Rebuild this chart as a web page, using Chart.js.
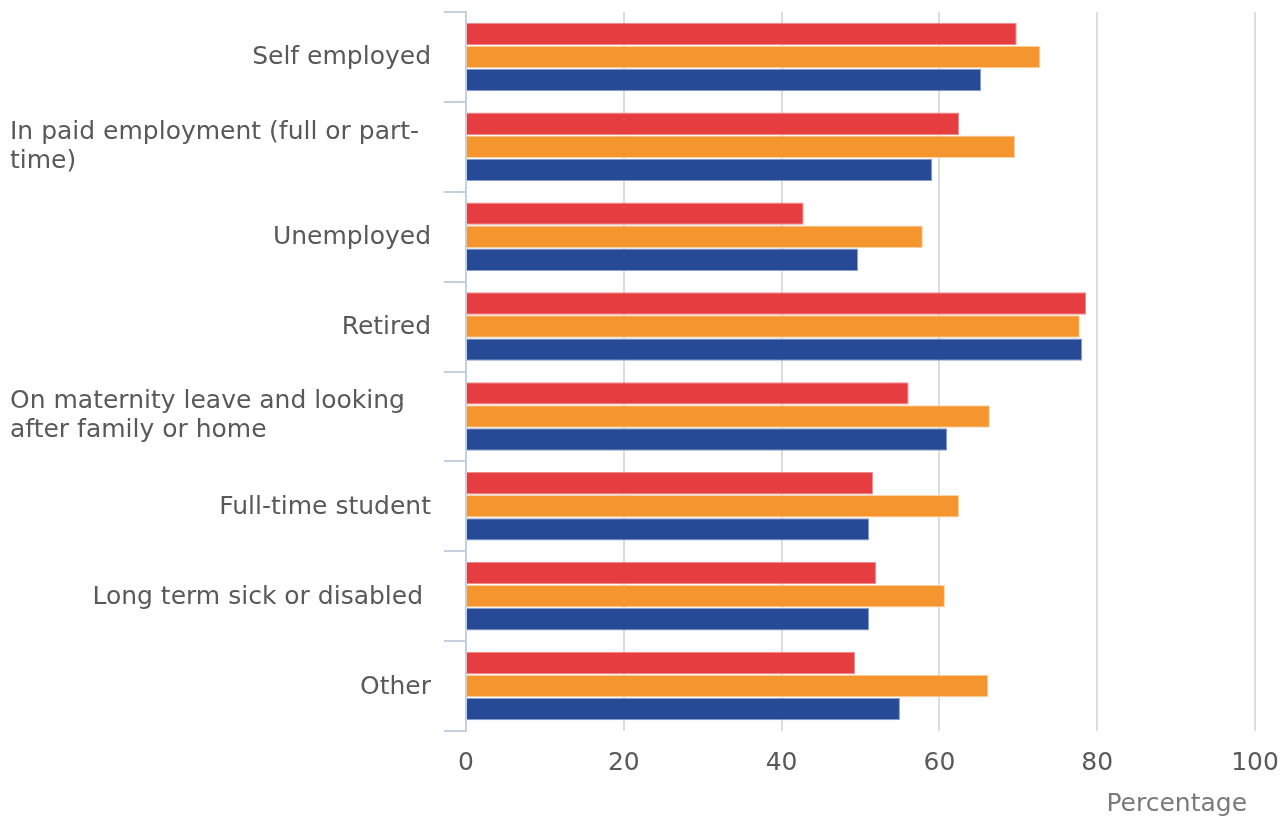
<!DOCTYPE html>
<html>
<head>
<meta charset="utf-8">
<script src="https://cdn.jsdelivr.net/npm/chart.js@4"></script>
<style>
html,body{margin:0;padding:0;background:#fff;}
#wrap{width:1288px;height:819px;}
</style>
</head>
<body>
<div id="wrap"><canvas id="c" width="1288" height="819"></canvas></div>
<script>
const categories = [
  ["Self employed"],
  ["In paid employment (full or part-", "time)"],
  ["Unemployed"],
  ["Retired"],
  ["On maternity leave and looking", "after family or home"],
  ["Full-time student"],
  ["Long term sick or disabled "],
  ["Other"]
];
const seriesRed = [69.8, 62.5, 42.8, 78.6, 56.1, 51.6, 52.0, 49.3];
const seriesOrange = [72.8, 69.6, 57.9, 77.8, 66.4, 62.5, 60.7, 66.2];
const seriesBlue = [65.3, 59.1, 49.7, 78.1, 61.0, 51.1, 51.1, 55.0];
const xTicks = [0, 20, 40, 60, 80, 100];
const xTitle = "Percentage";

const FONT = "'DejaVu Sans', sans-serif";
const TEXT = '#595959';
const FS = 25;

const yLabelPlugin = {
  id: 'yLabels',
  afterDraw(chart) {
    const ctx = chart.ctx;
    const y = chart.scales.y;
    ctx.save();
    ctx.font = FS + 'px ' + FONT;
    ctx.fillStyle = TEXT;
    ctx.textBaseline = 'middle';
    categories.forEach((lines, i) => {
      const cy = y.getPixelForValue(i);
      const lh = 29;
      if (lines.length === 1) {
        ctx.textAlign = 'right';
        ctx.fillText(lines[0], 431, cy + 1);
      } else {
        ctx.textAlign = 'left';
        const start = cy - (lines.length - 1) * lh / 2;
        lines.forEach((l, k) => ctx.fillText(l, 10, start + k * lh));
      }
    });
    ctx.restore();
  }
};

new Chart(document.getElementById('c'), {
  type: 'bar',
  data: {
    labels: categories.map(c => c.join(' ')),
    datasets: [
      { data: seriesRed, backgroundColor: '#e63e40', borderColor: '#f08a8b', borderWidth: 1 },
      { data: seriesOrange, backgroundColor: '#f4952e', borderColor: '#fbd3a8', borderWidth: 1 },
      { data: seriesBlue, backgroundColor: '#274a96', borderColor: '#8aa0cc', borderWidth: 1 }
    ]
  },
  options: {
    indexAxis: 'y',
    responsive: false,
    animation: false,
    events: [],
    layout: { padding: { top: 12, right: 33, bottom: 0, left: 0 } },
    categoryPercentage: 0.77,
    barPercentage: 0.97,
    plugins: { legend: { display: false }, tooltip: { enabled: false } },
    scales: {
      x: {
        min: 0, max: 100,
        afterBuildTicks(scale) { scale.ticks = xTicks.map(v => ({ value: v })); },
        afterFit(scale) { scale.height = 88; scale.paddingLeft = 0; scale.paddingRight = 0; },
        grid: {
          color: ctx => (ctx.tick && ctx.tick.value === 0) ? '#8c8c8c' : '#dcdcdc',
          lineWidth: 2,
          drawTicks: false
        },
        border: { display: false },
        ticks: { color: TEXT, font: { family: FONT, size: FS }, padding: 17 },
        title: {
          display: true, text: xTitle + ' ', align: 'end',
          color: '#7a7a7a', font: { family: FONT, size: FS }, padding: { top: 12, bottom: 0 }
        }
      },
      y: {
        grid: {
          offset: true, drawOnChartArea: false, drawTicks: true,
          tickLength: 22, color: '#c3d0e0', lineWidth: 2
        },
        border: { display: true, color: '#c3d0e0', width: 2 },
        ticks: { display: false },
        afterFit(scale) { scale.width = 466; }
      }
    }
  },
  plugins: [yLabelPlugin]
});
</script>
</body>
</html>
